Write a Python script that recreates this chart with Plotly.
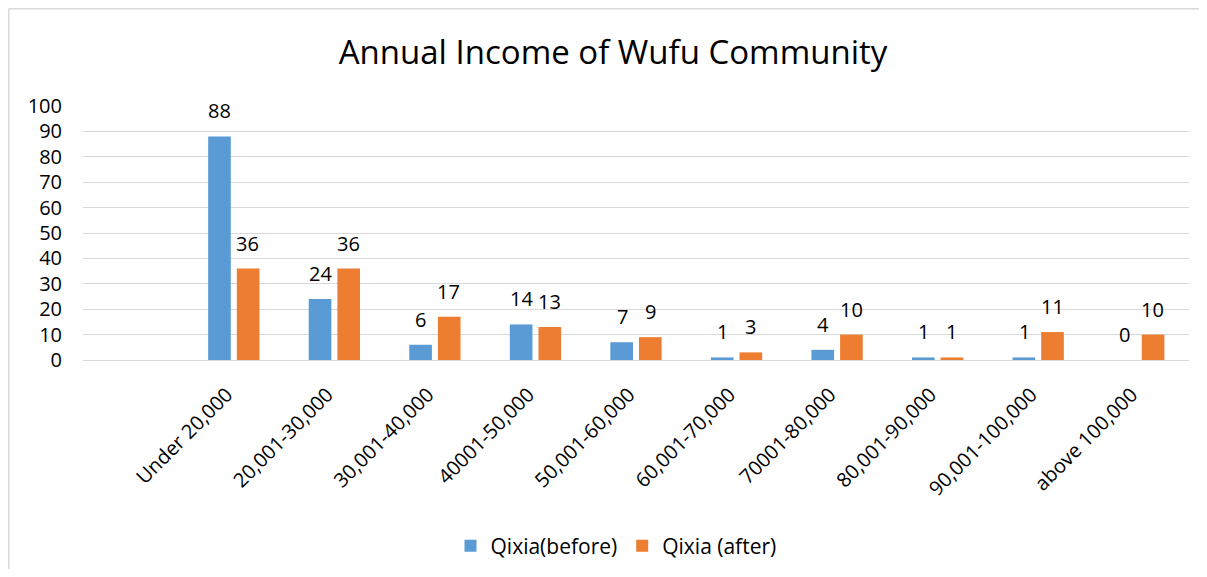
import plotly.graph_objects as go

categories = ["Under 20,000", "20,001-30,000", "30,001-40,000", "40001-50,000",
              "50,001-60,000", "60,001-70,000", "70001-80,000", "80,001-90,000",
              "90,001-100,000", "above 100,000"]
before = [88, 24, 6, 14, 7, 1, 4, 1, 1, 0]
after = [36, 36, 17, 13, 9, 3, 10, 1, 11, 10]
y_ticks = [0, 10, 20, 30, 40, 50, 60, 70, 80, 90, 100]

FONT = "Open Sans"
TXT = "#000000"
BLUE = "#5B9BD5"
ORANGE = "#ED7D31"

# page offset (body margin) is 8px; figure coordinates = page - 8
OFF = 8
W, H = 1207 - 2 * OFF, 577 - 2 * OFF
L, T = 83 - OFF, 106 - OFF
R = W - (1189 - OFF)
B = H - (360 - OFF)
pw, ph = W - L - R, H - T - B


def px_x(p):
    return (p - OFF - L) / pw


def px_y(p):
    return (H - B - (p - OFF)) / ph


fig = go.Figure()
fig.add_trace(go.Bar(x=categories, y=before, name="Qixia(before)",
                     marker=dict(color=BLUE, line=dict(width=0))))
fig.add_trace(go.Bar(x=categories, y=after, name="Qixia (after)",
                     marker=dict(color=ORANGE, line=dict(width=0))))

annotations = []
for series, shift in ((before, -14), (after, 14)):
    for c, v in zip(categories, series):
        annotations.append(dict(x=c, y=v, xref="x", yref="y", text=str(v),
                                showarrow=False, xanchor="center", yanchor="bottom",
                                xshift=shift, yshift=10,
                                font=dict(size=20, family=FONT, color=TXT)))

border = dict(color="#D9D9D9", width=1.5)
fig.update_layout(
    width=W, height=H,
    margin=dict(l=L, r=R, t=T, b=B, autoexpand=False),
    paper_bgcolor="white", plot_bgcolor="white",
    font=dict(family=FONT, color=TXT, size=20),
    barmode="group", bargap=0.43, bargroupgap=0.21,
    title=dict(text="Annual Income of Wufu Community", x=(613 - OFF) / W, xanchor="center",
               y=1 - (52 - OFF) / H, yanchor="middle", xref="container", yref="container",
               font=dict(size=33, family=FONT, color=TXT)),
    xaxis=dict(type="category", range=[-1.5, 9.5], tickangle=-45, automargin=False,
               showgrid=False, showline=True, linecolor="#D9D9D9", linewidth=1,
               ticks="", ticklabelstandoff=14, ticklabelshift=-7,
               tickfont=dict(size=20, family=FONT, color=TXT)),
    yaxis=dict(range=[0, 100], tickvals=y_ticks, showgrid=True, gridcolor="#D9D9D9",
               gridwidth=1, zeroline=False, showline=False, ticks="", automargin=False,
               ticklabelstandoff=20, tickfont=dict(size=20, family=FONT, color=TXT)),
    legend=dict(orientation="h", x=px_x(616), xanchor="center", y=px_y(546),
                yanchor="middle", font=dict(size=21, family=FONT, color=TXT),
                itemwidth=30, traceorder="normal"),
    annotations=annotations,
    shapes=[
        dict(type="line", xref="paper", yref="paper",
             x0=px_x(8.75), x1=px_x(1207), y0=px_y(8.75), y1=px_y(8.75),
             line=border, layer="below"),
        dict(type="line", xref="paper", yref="paper",
             x0=px_x(8.75), x1=px_x(8.75), y0=px_y(8.75), y1=px_y(577),
             line=border, layer="below"),
    ],
)

fig.write_html("out.html")
